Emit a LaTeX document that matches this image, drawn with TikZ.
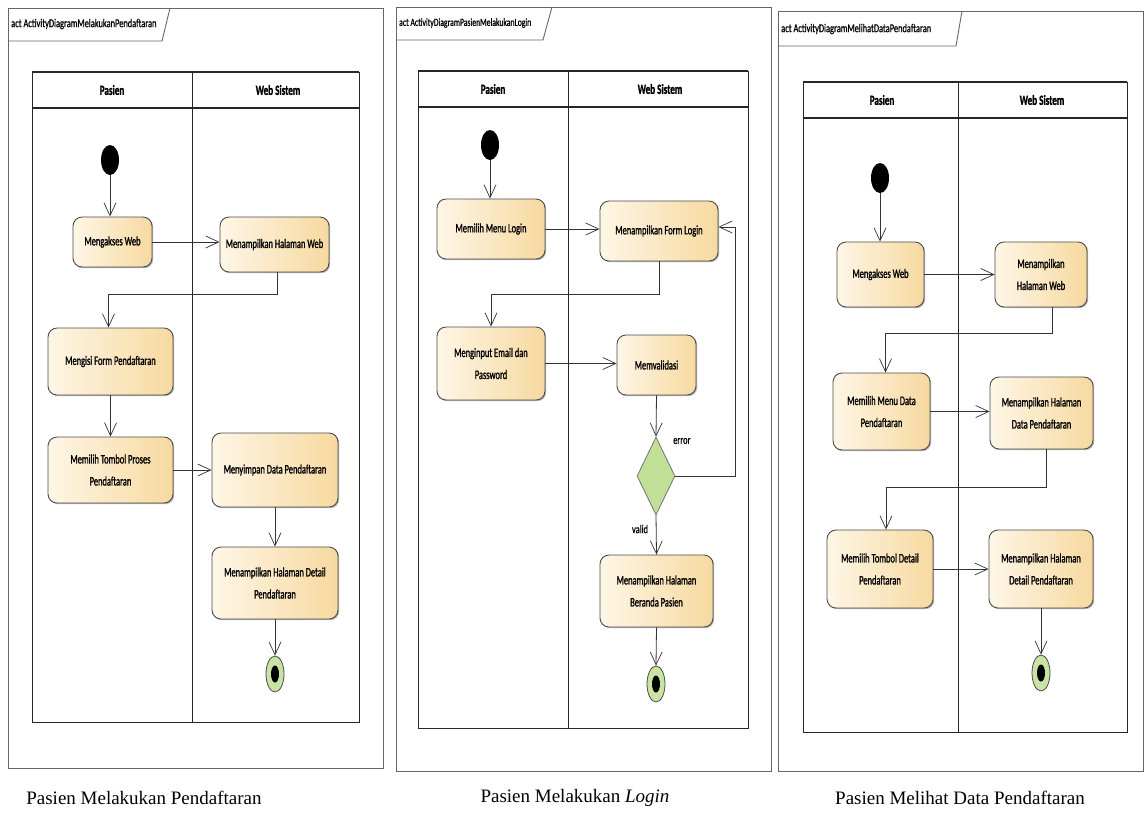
\documentclass[tikz,border=0pt]{standalone}
\usepackage{fontspec}
\setmainfont{Carlito}
\newfontfamily\nodefont[FakeStretch=0.65,FakeBold=1.2]{Carlito}
\newfontfamily\thinfont[FakeStretch=0.70,FakeBold=0.8]{Carlito}
\newfontfamily\capfont{Liberation Serif}
\usetikzlibrary{arrows.meta,shapes.geometric,shadows,calc}
\definecolor{actL}{HTML}{FEF6E6}
\definecolor{actR}{HTML}{F7D9A0}
\definecolor{decG}{HTML}{C2DF97}
\definecolor{finG}{HTML}{C8E3A3}
\newcommand\actnode[6]{\node[act, minimum width={#4-#2}, minimum height={#5-#3}] (#1) at ({(#2+#4)/2},{(#3+#5)/2}) {#6};}
\begin{document}
\begin{tikzpicture}[x=1pt,y=-1pt,
  frame/.style={draw=black!60, line width=0.9pt},
  lane/.style={draw=black!85, line width=0.9pt},
  lanehead/.style={draw=black!85, line width=1.6pt},
  flow/.style={draw=black!80, line width=0.8pt, -{Straight Barb[length=13pt,width=12pt,line width=0.7pt]}},
  act/.style={rectangle, rounded corners=9pt, draw=black!70, line width=0.9pt, left color=actL, right color=actR, font=\nodefont\fontsize{13}{22}\selectfont, align=center, inner sep=2pt, drop shadow={shadow xshift=1.2pt, shadow yshift=-1.2pt, fill=black, opacity=0.3}},
  startn/.style={ellipse, fill=black, minimum width=18pt, minimum height=30pt, inner sep=0},
  endn/.style={ellipse, draw=black!70, fill=finG, line width=0.8pt, minimum width=18pt, minimum height=36pt, inner sep=0},
  endin/.style={ellipse, fill=black, minimum width=8pt, minimum height=17pt, inner sep=0},
  dec/.style={diamond, draw=black!55, fill=decG, line width=0.8pt, minimum width=38pt, minimum height=78pt, inner sep=0},
  tabtext/.style={font=\thinfont\fontsize{12}{14}\selectfont, anchor=west, inner sep=0},
  headtext/.style={font=\nodefont\bfseries\fontsize{14}{16}\selectfont, inner sep=0},
  lbl/.style={font=\thinfont\fontsize{12}{14}\selectfont, inner sep=0},
  captext/.style={font=\capfont\fontsize{19}{22}\selectfont, inner sep=0}]
\useasboundingbox (0,0) rectangle (1145,815);
\fill[white] (0,0) rectangle (1145,815);

% ---------------- Panel 1 ----------------
\draw[frame] (8,8) rectangle (383,768);
\draw[frame] (8,41) -- (162,41) -- (170,8);
\node[tabtext] (t1) at (11,24) {act ActivityDiagramMelakukanPendaftaran};
\draw[lane] (32,72) rectangle (359,722);
\draw[lane] (192,72) -- (192,722);
\draw[lanehead] (32,72) -- (359,72);
\draw[lanehead] (32,108) -- (359,108);
\node[headtext] (h1a) at (112,90) {Pasien};
\node[headtext] (h1b) at (278,90) {Web Sistem};

\node[startn] (s1) at (110,160) {};
\actnode{a1}{73}{217}{152}{267}{Mengakses Web}
\actnode{a2}{220}{217}{329}{272}{Menampilkan Halaman Web}
\actnode{a3}{48}{328}{173}{395}{Mengisi Form Pendaftaran}
\actnode{a4}{48}{437}{173}{503}{Memilih Tombol Proses\\Pendaftaran}
\actnode{a5}{212}{433}{338}{507}{Menyimpan Data Pendaftaran}
\actnode{a6}{212}{547}{338}{619}{Menampilkan Halaman Detail\\Pendaftaran}
\node[endn] (e1) at (275,674) {};
\node[endin] (e1i) at (e1) {};

\draw[flow] (s1.south) -- (s1.south |- a1.north);
\draw[flow] (a1.east) -- (a1.east -| a2.west);
\draw[flow] ([xshift=3pt]a2.south) -- ++(0,22) -| ([xshift=-2pt]a3.north);
\draw[flow] (a3.south) -- (a4.north);
\draw[flow] (a4.east) -- (a4.east -| a5.west);
\draw[flow] (a5.south) -- (a6.north);
\draw[flow] (a6.south) -- (e1.north);

% ---------------- Panel 2 ----------------
\draw[frame] (396,7) rectangle (771,771);
\draw[frame] (396,40) -- (543,40) -- (552,7);
\node[tabtext, font=\thinfont\fontsize{11}{13}\selectfont] (t2) at (399,23) {act ActivityDiagramPasienMelakukanLogin};
\draw[lane] (418,71) rectangle (748,728);
\draw[lane] (568,71) -- (568,728);
\draw[lanehead] (418,71) -- (748,71);
\draw[lanehead] (418,107) -- (748,107);
\node[headtext] (h2a) at (493,89) {Pasien};
\node[headtext] (h2b) at (660,89) {Web Sistem};

\node[startn] (s2) at (490,145) {};
\actnode{b1}{437}{199}{545}{259}{Memilih Menu Login}
\actnode{b2}{600}{201}{718}{261}{Menampilkan Form Login}
\actnode{b3}{437}{327}{545}{400}{Menginput Email dan\\Password}
\actnode{b4}{617}{335}{696}{395}{Memvalidasi}
\node[dec] (d2) at (656,476) {};
\actnode{b5}{600}{555}{713}{627}{Menampilkan Halaman\\Beranda Pasien}
\node[endn] (e2) at (656,684) {};
\node[endin] (e2i) at (e2) {};
\coordinate (err) at (735,227);
\node[lbl, anchor=west] (lerr) at (673,441) {error};
\node[lbl] (lval) at (640,529) {valid};

\draw[flow] (s2.south) -- (s2.south |- b1.north);
\draw[flow] (b1.east) -- (b1.east -| b2.west);
\draw[flow] (b2.south) -- ++(0,33) -| (b3.north);
\draw[flow] (b3.east) -- (b3.east -| b4.west);
\draw[flow] (b4.south) -- (d2.north);
\draw[flow] (d2.east) -| (err) -- (err -| b2.east);
\draw[flow] (d2.south) -- (b5.north);
\draw[flow] (b5.south) -- (e2.north);

% ---------------- Panel 3 ----------------
\draw[frame] (778,11) rectangle (1143,771);
\draw[frame] (778,46) -- (956,46) -- (962,11);
\node[tabtext] (t3) at (781,29) {act ActivityDiagramMelihatDataPendaftaran};
\draw[lane] (803,82) rectangle (1127,732);
\draw[lane] (958,82) -- (958,732);
\draw[lanehead] (803,82) -- (1127,82);
\draw[lanehead] (803,118) -- (1127,118);
\node[headtext] (h3a) at (882,100) {Pasien};
\node[headtext] (h3b) at (1042,100) {Web Sistem};

\node[startn] (s3) at (880,178) {};
\actnode{c1}{837}{242}{924}{307}{Mengakses Web}
\actnode{c2}{995}{242}{1087}{307}{Menampilkan\\Halaman Web}
\actnode{c3}{833}{373}{930}{450}{Memilih Menu Data\\Pendaftaran}
\actnode{c4}{990}{377}{1093}{449}{Menampilkan Halaman\\Data Pendaftaran}
\actnode{c5}{827}{530}{933}{608}{Memilih Tombol Detail\\Pendaftaran}
\actnode{c6}{989}{530}{1093}{608}{Menampilkan Halaman\\Detail Pendaftaran}
\node[endn] (e3) at (1041,673) {};
\node[endin] (e3i) at (e3) {};

\draw[flow] (s3.south) -- (s3.south |- c1.north);
\draw[flow] (c1.east) -- (c1.east -| c2.west);
\draw[flow] ([xshift=11pt]c2.south) -- ++(0,26) -| ([xshift=4pt]c3.north);
\draw[flow] (c3.east) -- (c3.east -| c4.west);
\draw[flow] ([xshift=5pt]c4.south) -- ++(0,38) -| ([xshift=6pt]c5.north);
\draw[flow] (c5.east) -- (c5.east -| c6.west);
\draw[flow] (c6.south) -- (e3.north);

% ---------------- Captions ----------------
\node[captext] (cap1) at (144,798) {Pasien Melakukan Pendaftaran};
\node[captext] (cap2) at (575,798) {Pasien Melakukan \textit{Login}};
\node[captext] (cap3) at (960,798) {Pasien Melihat Data Pendaftaran};
\end{tikzpicture}
\end{document}
